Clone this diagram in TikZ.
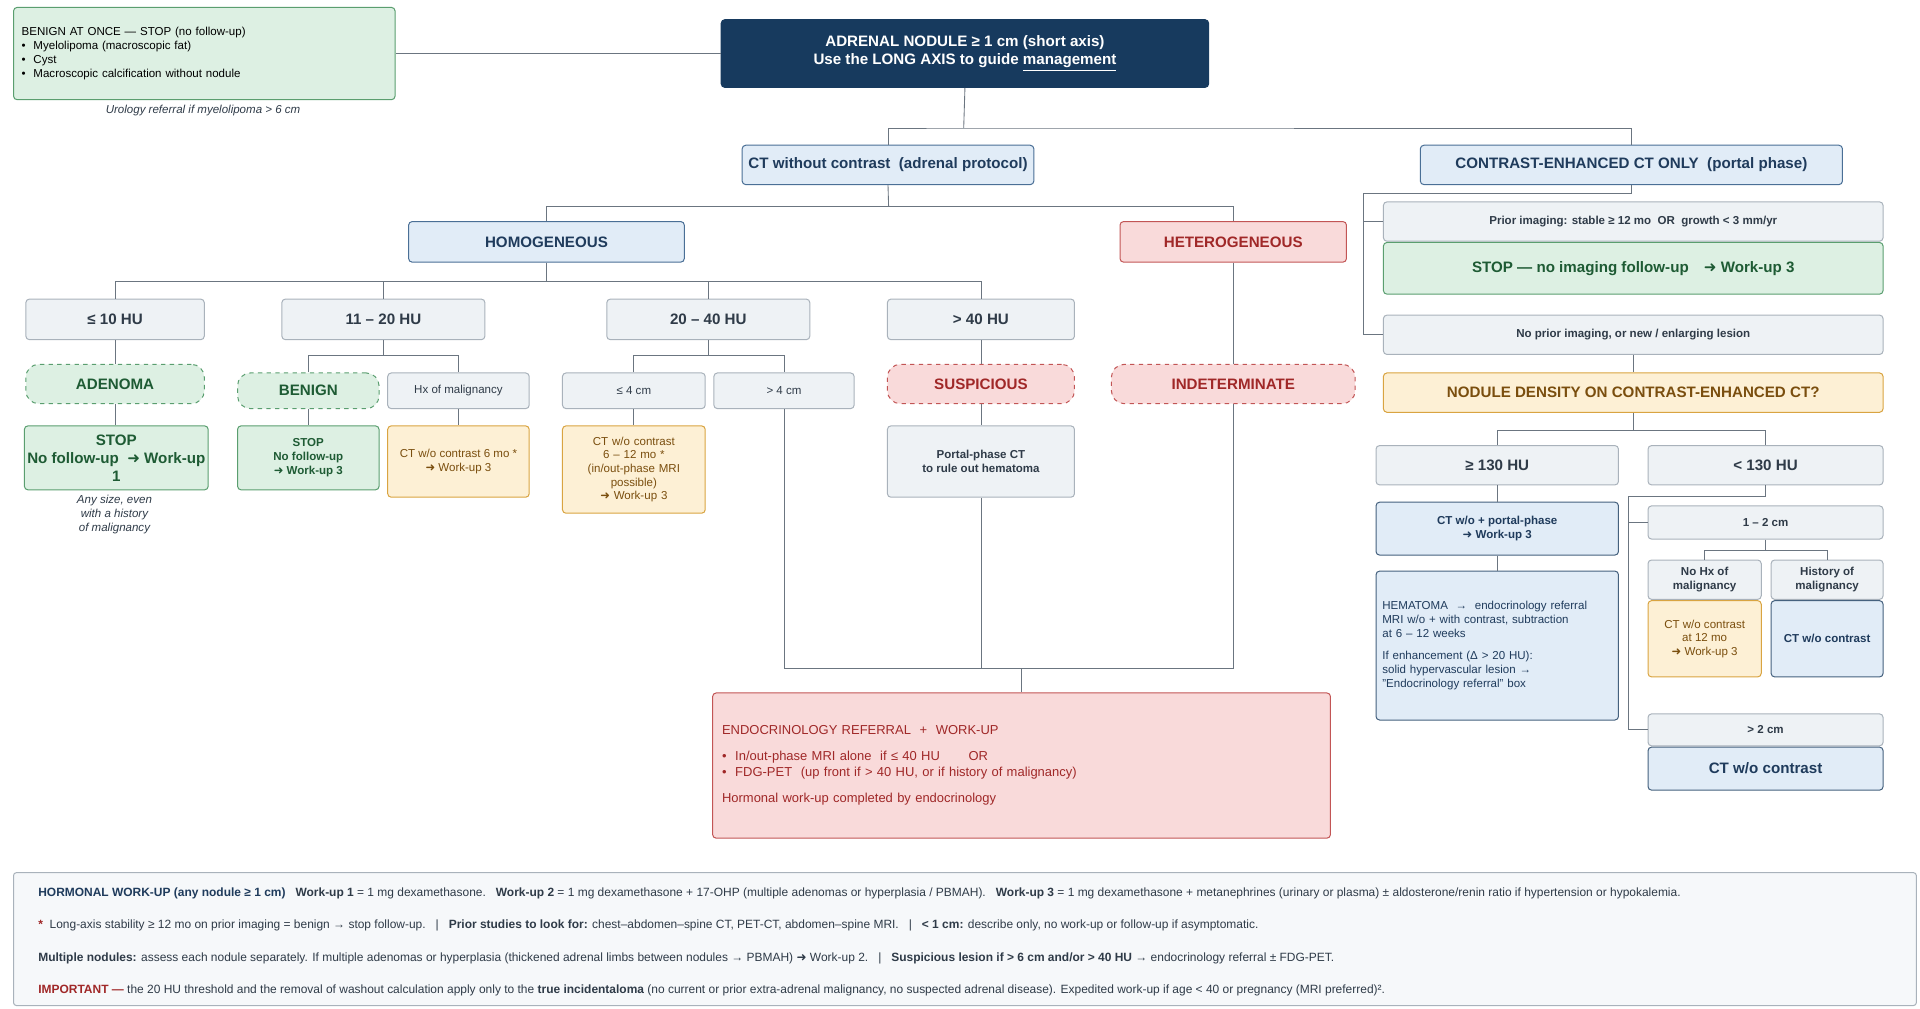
\documentclass[tikz,border=0pt]{standalone}
\usepackage{fontspec}
\setmainfont{Liberation Sans}
\newfontfamily\sym{DejaVu Sans}
\usetikzlibrary{positioning}
\definecolor{navy}{HTML}{173A5E}
\definecolor{bluefill}{HTML}{E1ECF7}
\definecolor{blueline}{HTML}{4A6F96}
\definecolor{bluetext}{HTML}{1F3B5C}
\definecolor{grayfill}{HTML}{EEF2F5}
\definecolor{grayline}{HTML}{A9B2BB}
\definecolor{graytext}{HTML}{2F3B48}
\definecolor{greenfill}{HTML}{DDF0E3}
\definecolor{greenline}{HTML}{5A9E6F}
\definecolor{greentext}{HTML}{1E5B34}
\definecolor{redfill}{HTML}{F9DADA}
\definecolor{redline}{HTML}{C25555}
\definecolor{redtext}{HTML}{A02828}
\definecolor{orangefill}{HTML}{FDF0D5}
\definecolor{orangeline}{HTML}{D9A441}
\definecolor{orangetext}{HTML}{7A4E0E}
\definecolor{wire}{HTML}{6B7580}
\newcommand{\arr}{{\sym ➜}}
\newcommand{\bigtxt}{\fontsize{10.5}{12.5}\selectfont}
\newcommand{\sml}{\fontsize{8}{9.5}\selectfont}
\tikzset{
  box/.style={draw, rounded corners=2.5pt, line width=0.7pt, inner sep=2pt, align=center},
  graybox/.style={box, fill=grayfill, draw=grayline, text=graytext, font=\bigtxt\bfseries},
  bluebox/.style={box, fill=bluefill, draw=blueline, text=bluetext, font=\bigtxt\bfseries},
  greenbox/.style={box, fill=greenfill, draw=greenline, text=greentext, font=\bigtxt\bfseries},
  redbox/.style={box, fill=redfill, draw=redline, text=redtext, font=\bigtxt\bfseries},
  orangebox/.style={box, fill=orangefill, draw=orangeline, text=orangetext, font=\sml},
  dashbox/.style={dashed, rounded corners=9pt},
  wiring/.style={draw=wire, line width=0.6pt}
}
\begin{document}
\begin{tikzpicture}[x=0.3mm,y=-0.3mm]
\useasboundingbox (0,0) rectangle (1560,819);

% top
\node [box, fill=greenfill, draw=greenline, text=black, font=\sml, minimum width=93mm, minimum height=22.5mm, text width=89mm, align=left] (benign) at (166,43.5)
  {BENIGN AT ONCE --- STOP (no follow-up)\\
   \textbullet\ \ Myelolipoma (macroscopic fat)\\
   \textbullet\ \ Cyst\\
   \textbullet\ \ Macroscopic calcification without nodule\\[9pt]};
\node [text=graytext, font=\sml\itshape] (urology) at (165,90) {Urology referral if myelolipoma > 6 cm};
\node [box, fill=navy, draw=navy, text=white, font=\bigtxt\bfseries, minimum width=118.8mm, minimum height=16.5mm] (root) at (784,43.5)
  {ADRENAL NODULE ≥ 1 cm (short axis)\\Use the LONG AXIS to guide \underline{management}};
\node [bluebox, minimum width=71.1mm, minimum height=9.6mm] (ct) at (721.5,134) {CT without contrast\ \ (adrenal protocol)};
\node [bluebox, minimum width=102.9mm, minimum height=9.6mm] (contrast) at (1325.5,134) {CONTRAST-ENHANCED CT ONLY\ \ (portal phase)};

% non-contrast CT branch
\node [bluebox, minimum width=67.2mm, minimum height=9.9mm] (homog) at (444,196.5) {HOMOGENEOUS};
\node [redbox, minimum width=55.2mm, minimum height=9.9mm] (hetero) at (1002,196.5) {HETEROGENEOUS};
\node [graybox, minimum width=43.5mm, minimum height=9.9mm] (hu10) at (93.5,259.5) {≤ 10 HU};
\node [graybox, minimum width=49.5mm, minimum height=9.9mm] (hu20) at (311.5,259.5) {11 -- 20 HU};
\node [graybox, minimum width=49.5mm, minimum height=9.9mm] (hu40) at (575.5,259.5) {20 -- 40 HU};
\node [graybox, minimum width=45.6mm, minimum height=9.9mm] (hu41) at (797,259.5) {> 40 HU};

\node [greenbox, dashbox, minimum width=43.5mm, minimum height=9.6mm] (adenoma) at (93.5,312) {ADENOMA};
\node [greenbox, minimum width=44.1mm, minimum height=15.6mm] (stopa) at (94.5,372) {STOP\\No follow-up\ \ \arr\ Work-up\\1};
\node [text=graytext, font=\sml\itshape, align=center] (anysize) at (93,418) {Any size, even\\with a history\\of malignancy};

\node [greenbox, dashbox, minimum width=34.5mm, minimum height=8.7mm] (benignb) at (250.5,317.5) {BENIGN};
\node [graybox, font=\sml, minimum width=34.5mm, minimum height=8.7mm] (hx) at (372.5,317.5) {Hx of malignancy};
\node [greenbox, font=\sml\bfseries, minimum width=34.5mm, minimum height=15.6mm] (stopb) at (250.5,372) {STOP\\No follow-up\\\arr\ Work-up 3};
\node [orangebox, minimum width=34.5mm, minimum height=17.4mm] (cthx) at (372.5,375) {CT w/o contrast 6 mo *\\\arr\ Work-up 3};

\node [graybox, font=\sml, minimum width=34.8mm, minimum height=8.7mm] (le4) at (515,317.5) {≤ 4 cm};
\node [graybox, font=\sml, minimum width=34.2mm, minimum height=8.7mm] (gt4) at (637,317.5) {> 4 cm};
\node [orangebox, minimum width=34.8mm, minimum height=21.3mm, text width=30mm] (ctle4) at (515,381.5)
  {CT w/o contrast\\6 -- 12 mo *\\(in/out-phase MRI\\possible)\\\arr\ Work-up 3};

\node [redbox, dashbox, minimum width=45.6mm, minimum height=9.6mm] (susp) at (797,312) {SUSPICIOUS};
\node [graybox, font=\sml\bfseries, minimum width=45.6mm, minimum height=17.4mm] (portal) at (797,375) {Portal-phase CT\\to rule out hematoma};
\node [redbox, dashbox, minimum width=59.4mm, minimum height=9.6mm] (indet) at (1002,312) {INDETERMINATE};

\node [box, fill=redfill, draw=redline, text=redtext, font=\fontsize{9}{11}\selectfont, minimum width=150.6mm, minimum height=35.4mm, text width=146mm, align=left] (endo) at (830,622)
  {ENDOCRINOLOGY REFERRAL\ \ +\ \ WORK-UP\\[7pt]
   \textbullet\ \ In/out-phase MRI alone\ \ if ≤ 40 HU\hspace{2.2em}OR\\
   \textbullet\ \ FDG-PET\ \ (up front if > 40 HU, or if history of malignancy)\\[7pt]
   Hormonal work-up completed by endocrinology};

% contrast-enhanced CT branch
\node [graybox, font=\sml\bfseries, minimum width=121.8mm, minimum height=9.6mm] (prior) at (1327,180) {Prior imaging: stable ≥ 12 mo\ \ OR\ \ growth < 3 mm/yr};
\node [greenbox, minimum width=121.8mm, minimum height=12.6mm] (stopc) at (1327,218) {STOP --- no imaging follow-up\quad\arr\ Work-up 3};
\node [graybox, font=\sml\bfseries, minimum width=121.8mm, minimum height=9.6mm] (noprior) at (1327,272) {No prior imaging, or new / enlarging lesion};
\node [box, fill=orangefill, draw=orangeline, text=orangetext, font=\bigtxt\bfseries, minimum width=121.8mm, minimum height=9.6mm] (density) at (1327,319) {NODULE DENSITY ON CONTRAST-ENHANCED CT?};
\node [graybox, minimum width=59.1mm, minimum height=9.6mm] (ge130) at (1216.5,378) {≥ 130 HU};
\node [graybox, minimum width=57.3mm, minimum height=9.6mm] (lt130) at (1434.5,378) {< 130 HU};
\node [bluebox, draw=navy!80, font=\sml\bfseries, minimum width=59.1mm, minimum height=12.9mm] (ctwo) at (1216.5,429.5) {CT w/o + portal-phase\\\arr\ Work-up 3};
\node [box, fill=bluefill, draw=navy!80, text=bluetext, font=\sml, minimum width=59.1mm, minimum height=36.3mm, text width=56mm, align=left] (hematoma) at (1216.5,524.5)
  {HEMATOMA\ \ →\ \ endocrinology referral\\MRI w/o + with contrast, subtraction\\at 6 -- 12 weeks\\[6pt]
   If enhancement (Δ > 20 HU):\\solid hypervascular lesion →\\"Endocrinology referral" box};
\node [graybox, font=\sml\bfseries, minimum width=57.3mm, minimum height=8.1mm] (onetwo) at (1434.5,424.5) {1 -- 2 cm};
\node [graybox, font=\sml\bfseries, minimum width=27.6mm, minimum height=9.6mm] (nohx) at (1385,471) {No Hx of\\malignancy};
\node [graybox, font=\sml\bfseries, minimum width=27.3mm, minimum height=9.6mm] (hist) at (1484.5,471) {History of\\malignancy};
\node [orangebox, minimum width=27.6mm, minimum height=18.6mm] (ctnohx) at (1385,519) {CT w/o contrast\\at 12 mo\\\arr\ Work-up 3};
\node [bluebox, draw=navy!80, font=\sml\bfseries, minimum width=27.3mm, minimum height=18.6mm] (cthist) at (1484.5,519) {CT w/o contrast};
\node [graybox, font=\sml\bfseries, minimum width=57.3mm, minimum height=7.8mm] (gttwo) at (1434.5,593) {> 2 cm};
\node [bluebox, draw=navy!80, minimum width=57.3mm, minimum height=10.5mm] (ctgttwo) at (1434.5,624.5) {CT w/o contrast};

% connectors
\coordinate (j1) at (783,104);
\coordinate (j2) at (722,168);
\coordinate (j3) at (444,229);
\coordinate (j4) at (311.5,289);
\coordinate (j5) at (575.5,289);
\coordinate (j6) at (830,543);
\coordinate (j7) at (1108,157);
\coordinate (j8) at (1327,350);
\coordinate (j9) at (1323,403);
\coordinate (j10) at (1434.5,447);
\draw [wiring] (root.west) -- (benign.east);
\draw [wiring] (root.south) -- (j1);
\draw [wiring] (ct.north) |- (j1) -| (contrast.north);
\draw [wiring] (ct.south) -- (j2);
\draw [wiring] (homog.north) |- (j2) -| (hetero.north);
\draw [wiring] (homog.south) -- (j3);
\draw [wiring] (hu10.north) |- (j3) -| (hu41.north);
\draw [wiring] (hu20.north) |- (j3);
\draw [wiring] (hu40.north) |- (j3);
\draw [wiring] (hu10.south) -- (adenoma.north);
\draw [wiring] (adenoma.south) -- (adenoma.south |- stopa.north);
\draw [wiring] (hu20.south) -- (j4);
\draw [wiring] (benignb.north) |- (j4) -| (hx.north);
\draw [wiring] (benignb.south) -- (stopb.north);
\draw [wiring] (hx.south) -- (cthx.north);
\draw [wiring] (hu40.south) -- (j5);
\draw [wiring] (le4.north) |- (j5) -| (gt4.north);
\draw [wiring] (le4.south) -- (ctle4.north);
\draw [wiring] (hu41.south) -- (susp.north);
\draw [wiring] (susp.south) -- (portal.north);
\draw [wiring] (hetero.south) -- (indet.north);
\draw [wiring] (gt4.south) |- (j6);
\draw [wiring] (portal.south) |- (j6);
\draw [wiring] (indet.south) |- (j6);
\draw [wiring] (j6) -- (endo.north);
\draw [wiring] (contrast.south) |- (j7);
\draw [wiring] (j7) |- (prior.west);
\draw [wiring] (j7) |- (noprior.west);
\draw [wiring] (noprior.south) -- (density.north);
\draw [wiring] (density.south) -- (j8);
\draw [wiring] (ge130.north) |- (j8) -| (lt130.north);
\draw [wiring] (ge130.south) -- (ctwo.north);
\draw [wiring] (ctwo.south) -- (hematoma.north);
\draw [wiring] (lt130.south) |- (j9);
\draw [wiring] (j9) |- (onetwo.west);
\draw [wiring] (j9) |- (gttwo.west);
\draw [wiring] (onetwo.south) -- (j10);
\draw [wiring] (nohx.north) |- (j10) -| (hist.north);

% footer
\node [draw=grayline, fill=grayfill!50, rounded corners=2pt, line width=0.7pt, minimum width=463.8mm, minimum height=32.4mm, inner sep=0pt] (footer) at (784,763) {};
\node [anchor=west, text=graytext, font=\fontsize{8.3}{10}\selectfont] (fline1) at (27,726)
  {\textcolor{bluetext}{\bfseries HORMONAL WORK-UP (any nodule ≥ 1 cm)}\ \ \ \textbf{Work-up 1} = 1 mg dexamethasone.\ \ \ \textbf{Work-up 2} = 1 mg dexamethasone + 17-OHP (multiple adenomas or hyperplasia / PBMAH).\ \ \ \textbf{Work-up 3} = 1 mg dexamethasone + metanephrines (urinary or plasma) ± aldosterone/renin ratio if hypertension or hypokalemia.};
\node [anchor=west, text=graytext, font=\fontsize{8.3}{10}\selectfont] (fline2) at (27,752)
  {\textcolor{redtext}{\bfseries *}\ \ Long-axis stability ≥ 12 mo on prior imaging = benign → stop follow-up.\ \ \ |\ \ \ \textbf{Prior studies to look for:} chest--abdomen--spine CT, PET-CT, abdomen--spine MRI.\ \ \ |\ \ \ \textbf{< 1 cm:} describe only, no work-up or follow-up if asymptomatic.};
\node [anchor=west, text=graytext, font=\fontsize{8.3}{10}\selectfont] (fline3) at (27,779)
  {\textbf{Multiple nodules:} assess each nodule separately. If multiple adenomas or hyperplasia (thickened adrenal limbs between nodules → PBMAH) \arr\ Work-up 2.\ \ \ |\ \ \ \textbf{Suspicious lesion if > 6 cm and/or > 40 HU} → endocrinology referral ± FDG-PET.};
\node [anchor=west, text=graytext, font=\fontsize{8.3}{10}\selectfont] (fline4) at (27,805)
  {\textcolor{redtext}{\bfseries IMPORTANT ---} the 20 HU threshold and the removal of washout calculation apply only to the \textbf{true incidentaloma} (no current or prior extra-adrenal malignancy, no suspected adrenal disease). Expedited work-up if age < 40 or pregnancy (MRI preferred)².};
\end{tikzpicture}
\end{document}
